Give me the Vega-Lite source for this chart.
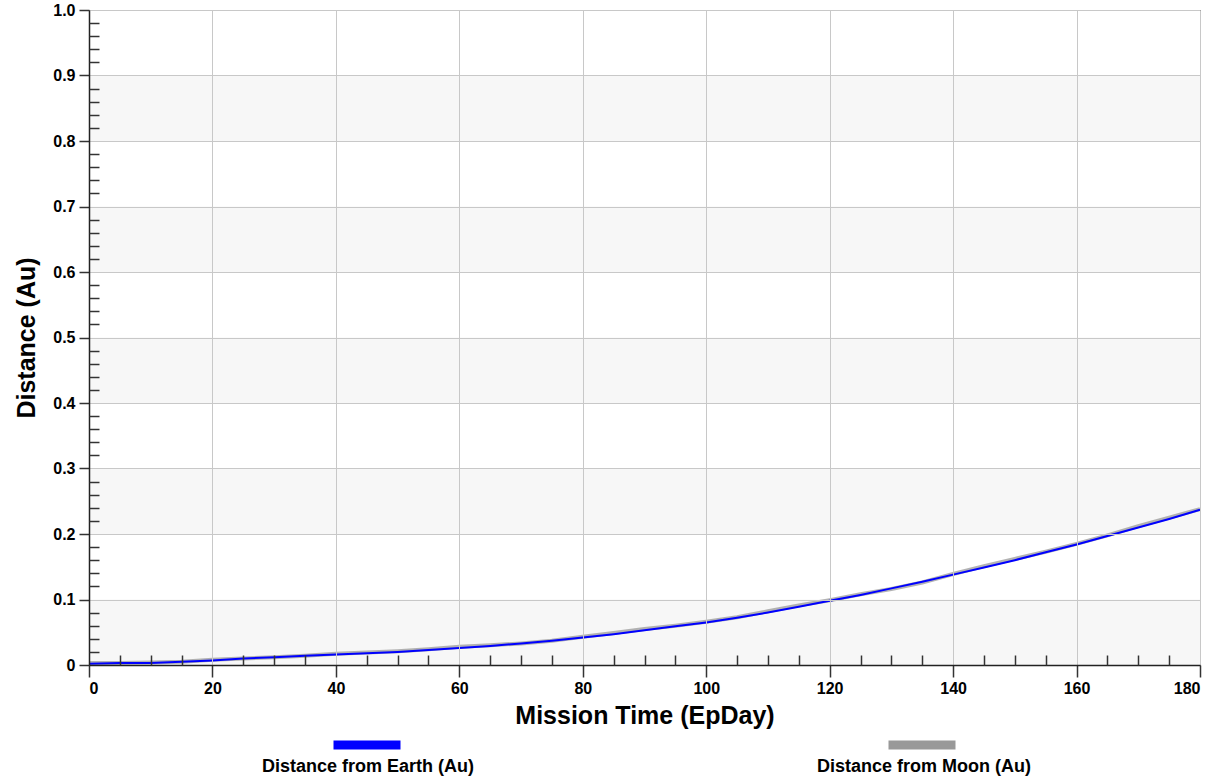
{
  "$schema": "https://vega.github.io/schema/vega-lite/v6.json",
  "width": 1111,
  "height": 655,
  "autosize": {"type": "none"},
  "padding": {"left": 89, "top": 10, "right": 17, "bottom": 113},
  "background": "#ffffff",
  "config": {
    "font": "Liberation Sans",
    "view": {"stroke": "#000000", "strokeWidth": 1},
    "axis": {
      "labelFont": "Liberation Sans",
      "labelFontWeight": "bold",
      "labelFontSize": 16,
      "labelColor": "#000000",
      "titleFont": "Liberation Sans",
      "titleFontWeight": "bold",
      "titleFontSize": 25,
      "titleColor": "#000000",
      "gridColor": "#c8c8c8",
      "gridWidth": 1,
      "tickColor": "#333333",
      "domainColor": "#222222",
      "domainWidth": 1.5
    },
    "legend": {"padding": 0}
  },
  "datasets": {
    "bands": [
      {"lo": 0.0, "hi": 0.1},
      {"lo": 0.2, "hi": 0.3},
      {"lo": 0.4, "hi": 0.5},
      {"lo": 0.6, "hi": 0.7},
      {"lo": 0.8, "hi": 0.9}
    ],
    "names": [
      {"label": "Distance from Earth (Au)"},
      {"label": "Distance from Moon (Au)"}
    ],
    "dist": [
      {"t": 0, "d": 0.002, "s": "Distance from Earth (Au)"},
      {"t": 5, "d": 0.003, "s": "Distance from Earth (Au)"},
      {"t": 10, "d": 0.003, "s": "Distance from Earth (Au)"},
      {"t": 15, "d": 0.005, "s": "Distance from Earth (Au)"},
      {"t": 20, "d": 0.007, "s": "Distance from Earth (Au)"},
      {"t": 25, "d": 0.010, "s": "Distance from Earth (Au)"},
      {"t": 30, "d": 0.012, "s": "Distance from Earth (Au)"},
      {"t": 35, "d": 0.014, "s": "Distance from Earth (Au)"},
      {"t": 40, "d": 0.016, "s": "Distance from Earth (Au)"},
      {"t": 45, "d": 0.018, "s": "Distance from Earth (Au)"},
      {"t": 50, "d": 0.020, "s": "Distance from Earth (Au)"},
      {"t": 55, "d": 0.023, "s": "Distance from Earth (Au)"},
      {"t": 60, "d": 0.026, "s": "Distance from Earth (Au)"},
      {"t": 65, "d": 0.029, "s": "Distance from Earth (Au)"},
      {"t": 70, "d": 0.033, "s": "Distance from Earth (Au)"},
      {"t": 75, "d": 0.037, "s": "Distance from Earth (Au)"},
      {"t": 80, "d": 0.042, "s": "Distance from Earth (Au)"},
      {"t": 85, "d": 0.047, "s": "Distance from Earth (Au)"},
      {"t": 90, "d": 0.053, "s": "Distance from Earth (Au)"},
      {"t": 95, "d": 0.059, "s": "Distance from Earth (Au)"},
      {"t": 100, "d": 0.065, "s": "Distance from Earth (Au)"},
      {"t": 105, "d": 0.072, "s": "Distance from Earth (Au)"},
      {"t": 110, "d": 0.080, "s": "Distance from Earth (Au)"},
      {"t": 115, "d": 0.089, "s": "Distance from Earth (Au)"},
      {"t": 120, "d": 0.098, "s": "Distance from Earth (Au)"},
      {"t": 125, "d": 0.107, "s": "Distance from Earth (Au)"},
      {"t": 130, "d": 0.117, "s": "Distance from Earth (Au)"},
      {"t": 135, "d": 0.127, "s": "Distance from Earth (Au)"},
      {"t": 140, "d": 0.138, "s": "Distance from Earth (Au)"},
      {"t": 145, "d": 0.149, "s": "Distance from Earth (Au)"},
      {"t": 150, "d": 0.160, "s": "Distance from Earth (Au)"},
      {"t": 155, "d": 0.172, "s": "Distance from Earth (Au)"},
      {"t": 160, "d": 0.184, "s": "Distance from Earth (Au)"},
      {"t": 165, "d": 0.197, "s": "Distance from Earth (Au)"},
      {"t": 170, "d": 0.210, "s": "Distance from Earth (Au)"},
      {"t": 175, "d": 0.223, "s": "Distance from Earth (Au)"},
      {"t": 180, "d": 0.237, "s": "Distance from Earth (Au)"},
      {"t": 0, "d": 0.003, "s": "Distance from Moon (Au)"},
      {"t": 5, "d": 0.003, "s": "Distance from Moon (Au)"},
      {"t": 10, "d": 0.004, "s": "Distance from Moon (Au)"},
      {"t": 15, "d": 0.005, "s": "Distance from Moon (Au)"},
      {"t": 20, "d": 0.008, "s": "Distance from Moon (Au)"},
      {"t": 25, "d": 0.010, "s": "Distance from Moon (Au)"},
      {"t": 30, "d": 0.012, "s": "Distance from Moon (Au)"},
      {"t": 35, "d": 0.014, "s": "Distance from Moon (Au)"},
      {"t": 40, "d": 0.017, "s": "Distance from Moon (Au)"},
      {"t": 45, "d": 0.019, "s": "Distance from Moon (Au)"},
      {"t": 50, "d": 0.021, "s": "Distance from Moon (Au)"},
      {"t": 55, "d": 0.024, "s": "Distance from Moon (Au)"},
      {"t": 60, "d": 0.028, "s": "Distance from Moon (Au)"},
      {"t": 65, "d": 0.030, "s": "Distance from Moon (Au)"},
      {"t": 70, "d": 0.033, "s": "Distance from Moon (Au)"},
      {"t": 75, "d": 0.037, "s": "Distance from Moon (Au)"},
      {"t": 80, "d": 0.043, "s": "Distance from Moon (Au)"},
      {"t": 85, "d": 0.049, "s": "Distance from Moon (Au)"},
      {"t": 90, "d": 0.055, "s": "Distance from Moon (Au)"},
      {"t": 95, "d": 0.060, "s": "Distance from Moon (Au)"},
      {"t": 100, "d": 0.066, "s": "Distance from Moon (Au)"},
      {"t": 105, "d": 0.073, "s": "Distance from Moon (Au)"},
      {"t": 110, "d": 0.082, "s": "Distance from Moon (Au)"},
      {"t": 115, "d": 0.091, "s": "Distance from Moon (Au)"},
      {"t": 120, "d": 0.099, "s": "Distance from Moon (Au)"},
      {"t": 125, "d": 0.108, "s": "Distance from Moon (Au)"},
      {"t": 130, "d": 0.116, "s": "Distance from Moon (Au)"},
      {"t": 135, "d": 0.126, "s": "Distance from Moon (Au)"},
      {"t": 140, "d": 0.139, "s": "Distance from Moon (Au)"},
      {"t": 145, "d": 0.151, "s": "Distance from Moon (Au)"},
      {"t": 150, "d": 0.162, "s": "Distance from Moon (Au)"},
      {"t": 155, "d": 0.173, "s": "Distance from Moon (Au)"},
      {"t": 160, "d": 0.185, "s": "Distance from Moon (Au)"},
      {"t": 165, "d": 0.198, "s": "Distance from Moon (Au)"},
      {"t": 170, "d": 0.212, "s": "Distance from Moon (Au)"},
      {"t": 175, "d": 0.225, "s": "Distance from Moon (Au)"},
      {"t": 180, "d": 0.238, "s": "Distance from Moon (Au)"}
    ]
  },
  "resolve": {"axis": {"x": "independent", "y": "independent"}},
  "layer": [
    {
      "data": {"name": "bands"},
      "mark": {"type": "rect", "fill": "#f7f7f7"},
      "encoding": {
        "x": {"datum": 0, "type": "quantitative", "scale": {"domain": [0, 180], "nice": false},
          "axis": {"orient": "bottom", "values": [5,10,15,25,30,35,45,50,55,65,70,75,85,90,95,105,110,115,125,130,135,145,150,155,165,170,175], "tickSize": -10, "tickWidth": 1.5, "labels": false, "domain": false, "grid": false, "title": null, "zindex": 2}},
        "x2": {"datum": 180},
        "y": {"field": "lo", "type": "quantitative", "scale": {"domain": [0, 1], "nice": false},
          "axis": {"orient": "left", "values": [0.02,0.04,0.06,0.08,0.12,0.14,0.16,0.18,0.22,0.24,0.26,0.28,0.32,0.34,0.36,0.38,0.42,0.44,0.46,0.48,0.52,0.54,0.56,0.58,0.62,0.64,0.66,0.68,0.72,0.74,0.76,0.78,0.82,0.84,0.86,0.88,0.92,0.94,0.96,0.98], "tickSize": -10, "tickWidth": 1.5, "labels": false, "domain": false, "grid": false, "title": null, "zindex": 2}},
        "y2": {"field": "hi"}
      }
    },
    {
      "data": {"name": "dist"},
      "transform": [{"filter": "datum.s == 'Distance from Moon (Au)'"}],
      "mark": {"type": "line", "strokeWidth": 4, "opacity": 0.75},
      "encoding": {
        "x": {"field": "t", "type": "quantitative", "scale": {"domain": [0, 180], "nice": false},
          "axis": {"orient": "bottom", "values": [0,20,40,60,80,100,120,140,160,180], "format": "d", "tickSize": 12, "tickWidth": 1.5, "labelPadding": 3, "grid": true, "title": "Mission Time (EpDay)", "titlePadding": 7, "zindex": 1}},
        "y": {"field": "d", "type": "quantitative", "scale": {"domain": [0, 1], "nice": false},
          "axis": {"orient": "left", "values": [0,0.1,0.2,0.3,0.4,0.5,0.6,0.7,0.8,0.9,1.0], "labelExpr": "datum.value == 0 ? '0' : format(datum.value, '.1f')", "tickSize": 10, "tickWidth": 1.5, "labelPadding": 4, "grid": true, "title": "Distance (Au)", "titlePadding": 13, "zindex": 1}},
        "color": {"field": "s", "type": "nominal",
          "scale": {"domain": ["Distance from Earth (Au)", "Distance from Moon (Au)"], "range": ["#0000ff", "#999999"]},
          "legend": {
            "orient": "none", "legendX": 240, "legendY": 697,
            "direction": "horizontal", "columns": 2, "title": null,
            "symbolType": "M-1,0H1", "symbolSize": 4489, "symbolStrokeWidth": 9, "symbolOpacity": 1,
            "labelExpr": "''", "labelOffset": 0, "labelFontSize": 1,
            "columnPadding": 451
          }
        }
      }
    },
    {
      "data": {"name": "dist"},
      "transform": [{"filter": "datum.s == 'Distance from Earth (Au)'"}],
      "mark": {"type": "line", "strokeWidth": 2},
      "encoding": {
        "x": {"field": "t", "type": "quantitative", "axis": null},
        "y": {"field": "d", "type": "quantitative", "axis": null},
        "color": {"field": "s", "type": "nominal"}
      }
    },
    {
      "data": {"name": "names"},
      "mark": {"type": "point", "opacity": 0},
      "encoding": {
        "shape": {"field": "label", "type": "nominal",
          "legend": {
            "orient": "none", "legendX": 155, "legendY": 748,
            "direction": "horizontal", "columns": 2, "title": null,
            "symbolType": "circle", "symbolSize": 0, "symbolOpacity": 0, "symbolStrokeWidth": 0,
            "labelOffset": 0, "labelAlign": "left", "labelLimit": 400,
            "labelFont": "Liberation Sans", "labelFontSize": 18, "labelFontWeight": "bold", "labelColor": "#000000",
            "columnPadding": 324
          }
        }
      }
    }
  ]
}
